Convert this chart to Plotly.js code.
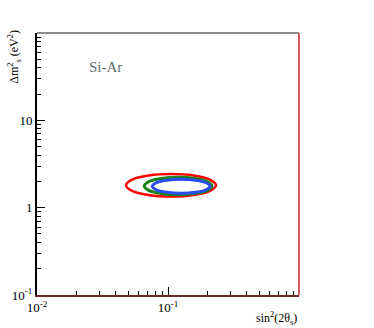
<!DOCTYPE html>
<html>
<head>
<meta charset="utf-8">
<script src="https://cdn.plot.ly/plotly-3.0.1.min.js"></script>
<style>
  body { margin: 0; background: white; }
  #graph { width: 374px; height: 328px; }
</style>
</head>
<body>
<div id="graph"></div>
<script>
//Contour points (sin^2(2theta), dm^2)
let redX = [0.2325, 0.2091, 0.1565, 0.1054, 0.0710, 0.0531, 0.0478, 0.0531, 0.0710, 0.1054, 0.1565, 0.2091, 0.2325];
let redY = [1.806, 2.096, 2.337, 2.432, 2.337, 2.096, 1.806, 1.556, 1.394, 1.340, 1.394, 1.556, 1.806];

let greenX = [0.2168, 0.2001, 0.1609, 0.1195, 0.0887, 0.0714, 0.0659, 0.0714, 0.0887, 0.1195, 0.1609, 0.2001, 0.2168];
let greenY = [1.773, 1.988, 2.162, 2.229, 2.162, 1.988, 1.773, 1.580, 1.453, 1.409, 1.453, 1.580, 1.773];

let blueX = [0.2092, 0.1955, 0.1623, 0.1260, 0.0978, 0.0812, 0.0759, 0.0812, 0.0978, 0.1260, 0.1623, 0.1955, 0.2092];
let blueY = [1.759, 1.929, 2.064, 2.116, 2.064, 1.929, 1.759, 1.603, 1.499, 1.462, 1.499, 1.603, 1.759];

//tick labels
let xTickVals = [0.01, 0.1];
let xTickText = ['10<sup>-2</sup>', '10<sup>-1</sup>'];
let yTickVals = [0.1, 1, 10];
let yTickText = ['10<sup>-1</sup>', '1', '10'];

let labelText = 'Si-Ar';

let graph = document.getElementById('graph');
let serif = "'Liberation Serif', 'Times New Roman', serif";

// minor ticks at 2..9 of each decade
function minorTicks(firstDecade, decades) {
    let vals = [];
    for (let d = 0; d < decades; d++) {
        for (let k = 2; k <= 9; k++) {
            vals.push(k * firstDecade * Math.pow(10, d));
        }
    }
    return vals;
}

function contour(x, y, color, width) {
    return {
        type: 'scatter',
        mode: 'lines',
        x: x,
        y: y,
        line: {color: color, width: width, shape: 'spline', smoothing: 1},
        hoverinfo: 'skip',
        showlegend: false
    };
}

let data = [
    contour(redX, redY, '#ff0000', 2.5),
    contour(greenX, greenY, '#1a841a', 3),
    contour(blueX, blueY, '#2a4cf0', 3)
];

let axisBase = {
    type: 'log',
    tickmode: 'array',
    ticks: 'inside',
    ticklen: 8,
    tickwidth: 1,
    tickcolor: 'black',
    showgrid: false,
    zeroline: false,
    showline: true,
    tickfont: {family: serif, size: 13, color: 'black'}
};

function minorOpts(vals) {
    return {tickmode: 'array', tickvals: vals, ticks: 'inside', ticklen: 4,
        tickwidth: 1, tickcolor: 'black', showgrid: false};
}

let layout = {
    width: 374,
    height: 328,
    margin: {l: 37, r: 75, t: 33, b: 33},
    paper_bgcolor: 'white',
    plot_bgcolor: 'white',
    showlegend: false,
    xaxis: Object.assign({}, axisBase, {
        range: [-2, 0],
        tickvals: xTickVals,
        ticktext: xTickText,
        minor: minorOpts(minorTicks(0.01, 2)),
        linecolor: '#6e2a2a',
        linewidth: 1.5
    }),
    yaxis: Object.assign({}, axisBase, {
        range: [-1, 2],
        tickvals: yTickVals,
        ticktext: yTickText,
        minor: minorOpts(minorTicks(0.1, 3)),
        linecolor: 'black',
        linewidth: 2
    }),
    shapes: [
        {type: 'line', xref: 'paper', yref: 'paper', x0: 0, x1: 1, y0: 1, y1: 1,
            line: {color: '#8a8a8a', width: 2}},
        {type: 'line', xref: 'paper', yref: 'paper', x0: 1, x1: 1, y0: 0, y1: 1,
            line: {color: '#d85a5a', width: 2}}
    ],
    annotations: [
        {text: labelText, xref: 'paper', yref: 'paper', x: 0.262, y: 0.870,
            xanchor: 'center', yanchor: 'middle',
            showarrow: false, font: {family: serif, size: 15, color: '#5f6d6d'}},
        {text: 'sin<sup>2</sup>(2θ<sub>s</sub>)', xref: 'paper', yref: 'paper',
            x: 1, y: -0.088, xanchor: 'right', yanchor: 'middle',
            showarrow: false, font: {family: serif, size: 12, color: 'black'}},
        {text: 'Δm<sup>2</sup><sub>s</sub> (eV<sup>2</sup>)', xref: 'paper', yref: 'paper',
            x: -0.084, y: 1.02, xanchor: 'center', yanchor: 'top', textangle: -90,
            showarrow: false, font: {family: serif, size: 12, color: 'black'}}
    ]
};

Plotly.newPlot(graph, data, layout, {staticPlot: true, displayModeBar: false});
</script>
</body>
</html>
